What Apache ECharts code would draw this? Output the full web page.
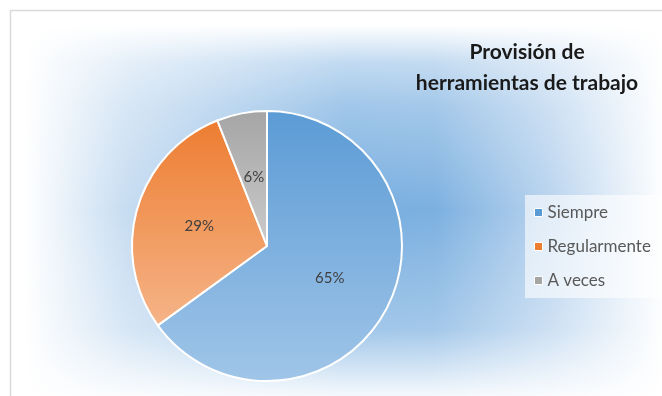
<!DOCTYPE html>
<html>
<head>
<meta charset="utf-8">
<script src="https://cdn.jsdelivr.net/npm/echarts@6/dist/echarts.min.js"></script>
<style>
  html, body { margin: 0; padding: 0; background: #fff; }
  #Chart { width: 662px; height: 396px; }
</style>
</head>
<body>
<div id="Chart"></div>
<script>
// datos del gráfico
const categories = ['Siempre', 'Regularmente', 'A veces'];
const values = [65, 29, 6];
const titleText = 'Provisión de\nherramientas de trabajo';

// colores (arriba / abajo) de cada porción
const topColors = ['#5b9bd5', '#ed7d31', '#a5a5a5'];
const bottomColors = ['#a0c5e8', '#f5b488', '#cbcbcb'];
const legendColors = ['#5b9bd5', '#ed7d31', '#a5a5a5'];
const fontName = 'Lato';

const myChart = echarts.init(document.getElementById('Chart'));

const grad = (a, b) => new echarts.graphic.LinearGradient(0, 0, 0, 1, [
    { offset: 0, color: a },
    { offset: 1, color: b }
]);

const option = {
    backgroundColor: '#ffffff',
    animation: false,
    title: {
        text: titleText,
        left: 522,
        top: 32,
        textAlign: 'center',
        textStyle: {
            color: '#1a1a1a',
            fontSize: 21,
            fontWeight: 'bold',
            fontFamily: fontName,
            lineHeight: 31
        }
    },
    legend: {
        orient: 'vertical',
        left: 525,
        top: 195,
        padding: [9, 60, 9, 9],
        backgroundColor: 'rgba(255,255,255,0.6)',
        icon: 'rect',
        itemWidth: 8,
        itemHeight: 8,
        itemGap: 17,
        textStyle: {
            color: '#595959',
            fontSize: 17,
            fontFamily: fontName
        },
        data: categories.map((name, i) => ({
            name: name,
            itemStyle: { color: legendColors[i], borderColor: '#fff', borderWidth: 1 }
        }))
    },
    graphic: [
        {
            type: 'rect',
            z: -10,
            shape: { x: 25, y: 25, width: 640, height: 371 },
            style: {
                fill: new echarts.graphic.LinearGradient(0, 0, 1, 0, [
                    { offset: 0, color: '#ffffff' },
                    { offset: 0.16, color: '#c6dcf1' },
                    { offset: 0.5, color: '#78aee0' },
                    { offset: 0.64, color: '#7cb0e0' },
                    { offset: 0.82, color: '#b8d3ee' },
                    { offset: 1, color: '#ffffff' }
                ])
            }
        },
        {
            type: 'rect',
            z: -9,
            shape: { x: 25, y: 25, width: 640, height: 371 },
            style: {
                fill: new echarts.graphic.LinearGradient(0, 0, 0, 1, [
                    { offset: 0, color: 'rgba(255,255,255,1)' },
                    { offset: 0.1, color: 'rgba(255,255,255,0.55)' },
                    { offset: 0.22, color: 'rgba(255,255,255,0.3)' },
                    { offset: 0.5, color: 'rgba(255,255,255,0)' },
                    { offset: 0.82, color: 'rgba(255,255,255,0.3)' },
                    { offset: 1, color: 'rgba(255,255,255,0.92)' }
                ])
            }
        },
        {
            type: 'rect',
            z: -8,
            shape: { x: 10.5, y: 10.5, width: 700, height: 420 },
            style: { fill: 'none', stroke: '#d9d9d9', lineWidth: 1.5 }
        }
    ],
    series: [
        {
            type: 'pie',
            center: [267, 246],
            radius: 135,
            startAngle: 90,
            clockwise: true,
            legendHoverLink: false,
            itemStyle: {
                borderColor: '#ffffff',
                borderWidth: 2
            },
            label: {
                show: true,
                position: 'inside',
                formatter: '{c}%',
                color: '#404040',
                fontSize: 15,
                fontFamily: fontName
            },
            labelLine: { show: false },
            data: categories.map((name, i) => ({
                name: name,
                value: values[i],
                itemStyle: { color: grad(topColors[i], bottomColors[i]) }
            }))
        }
    ]
};

myChart.setOption(option);
</script>
</body>
</html>
